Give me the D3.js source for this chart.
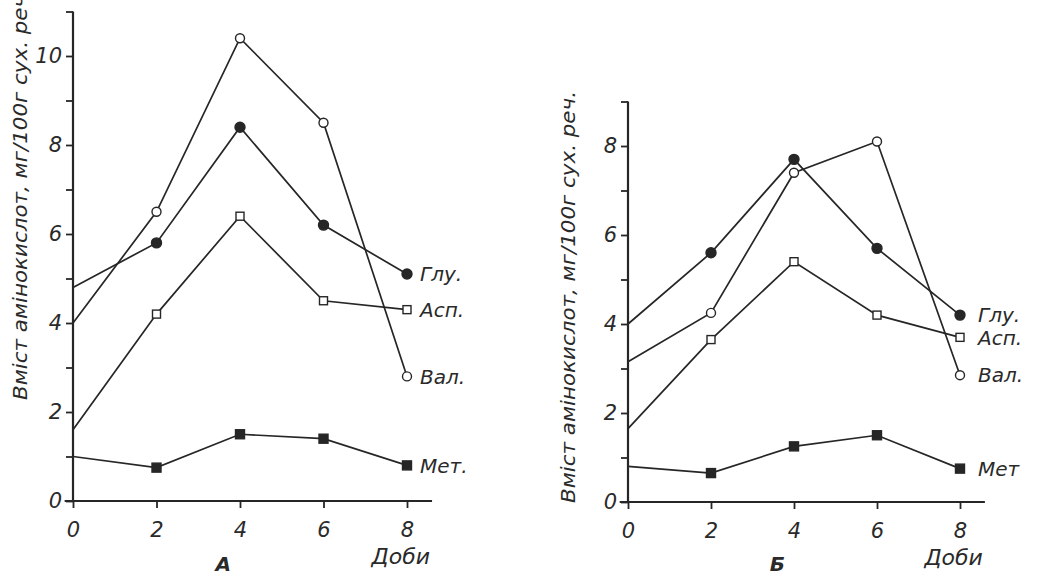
<!DOCTYPE html>
<html>
<head>
<meta charset="utf-8">
<script src="https://cdn.jsdelivr.net/npm/d3@7"></script>
<style>
  body { margin: 0; background: #fff; }
  svg { display: block; }
  text { font-family: "DejaVu Sans", "Liberation Sans", sans-serif; font-style: italic; fill: #2a2a2a; }
</style>
</head>
<body>
<svg id="chart" width="1045" height="576"></svg>
<script>
// days of measurement
const days = [0, 2, 4, 6, 8]

// panel A values, mg/100g dry matter
const valA = [4.0, 6.5, 10.4, 8.5, 2.8]
const gluA = [4.8, 5.8, 8.4, 6.2, 5.1]
const aspA = [1.6, 4.2, 6.4, 4.5, 4.3]
const metA = [1.0, 0.75, 1.5, 1.4, 0.8]

// panel B values
const gluB = [4.0, 5.6, 7.7, 5.7, 4.2]
const valB = [3.15, 4.25, 7.4, 8.1, 2.85]
const aspB = [1.65, 3.65, 5.4, 4.2, 3.7]
const metB = [0.8, 0.65, 1.25, 1.5, 0.75]

const yTitle = 'Вміст амінокислот, мг/100г сух. реч.'
const xTitle = 'Доби'

const ink = '#262626'
const font = '"DejaVu Sans", "Liberation Sans", sans-serif'
const svg = d3.select('#chart')

function styleText(sel, size) {
  sel.attr('font-size', size)
    .style('font-family', font)
    .style('font-style', 'italic')
    .attr('fill', ink)
}

function drawPanel(opt) {
  const x = d3.scaleLinear().domain([0, 8]).range([opt.x0, opt.x1])
  const y = d3.scaleLinear().domain([0, opt.ymax]).range([opt.y0, opt.y0 - opt.ymax * 44.5])
  const g = svg.append('g')

  // y axis, ticks at every unit, labels on even ones
  const yAxis = d3.axisLeft(y)
    .tickValues(d3.range(0, opt.ymax + 1))
    .tickSize(7)
    .tickPadding(4)
    .tickFormat(d => d % 2 === 0 ? d : '')
  const ya = g.append('g').attr('transform', `translate(${opt.x0},0)`).call(yAxis)
  ya.select('.domain').remove()
  ya.selectAll('line').attr('stroke', ink).attr('stroke-width', 1.8)
  styleText(ya.selectAll('text'), 21)

  // x axis
  const xAxis = d3.axisBottom(x).tickValues(days).tickSize(7).tickPadding(14)
  const xa = g.append('g').attr('transform', `translate(0,${opt.y0})`).call(xAxis)
  xa.select('.domain').remove()
  xa.selectAll('line').attr('stroke', ink).attr('stroke-width', 1.8)
  styleText(xa.selectAll('text'), 21)

  // axis lines
  g.append('line').attr('x1', opt.x0).attr('x2', opt.x0)
    .attr('y1', opt.y0).attr('y2', y(opt.ymax))
    .attr('stroke', ink).attr('stroke-width', 2.2)
  g.append('line').attr('x1', x(-0.2)).attr('x2', x(8.6))
    .attr('y1', opt.y0).attr('y2', opt.y0)
    .attr('stroke', ink).attr('stroke-width', 2.2)

  const line = d3.line().x((d, i) => x(days[i])).y(d => y(d))

  opt.series.forEach(s => {
    g.append('path').datum(s.values)
      .attr('d', line)
      .attr('fill', 'none')
      .attr('stroke', ink)
      .attr('stroke-width', 1.7)

    // markers, none at day 0
    const pts = s.values.map((v, i) => ({ d: days[i], v })).filter(p => p.d > 0)
    if (s.shape === 'circle') {
      g.selectAll(null).data(pts).enter().append('circle')
        .attr('cx', p => x(p.d)).attr('cy', p => y(p.v)).attr('r', s.filled ? 5 : 4.5)
        .attr('fill', s.filled ? ink : '#fff')
        .attr('stroke', ink).attr('stroke-width', 1.4)
    } else {
      const sz = s.filled ? 9 : 8
      g.selectAll(null).data(pts).enter().append('rect')
        .attr('x', p => x(p.d) - sz / 2).attr('y', p => y(p.v) - sz / 2)
        .attr('width', sz).attr('height', sz)
        .attr('fill', s.filled ? ink : '#fff')
        .attr('stroke', ink).attr('stroke-width', 1.4)
    }

    const lab = g.append('text')
      .attr('x', x(8) + opt.labelGap)
      .attr('y', y(s.values[4]))
      .attr('dy', '0.36em')
      .text(s.name)
    styleText(lab, 20)
  })

  // y title
  const yt = g.append('text')
    .attr('transform', `translate(${opt.titleX},${opt.titleY}) rotate(-90)`)
    .attr('text-anchor', 'middle')
    .attr('textLength', 412)
    .attr('lengthAdjust', 'spacingAndGlyphs')
    .text(yTitle)
  styleText(yt, 19)

  // x title
  const xt = g.append('text')
    .attr('x', x(8.6) - 2).attr('y', opt.y0 + 63)
    .attr('text-anchor', 'end')
    .text(xTitle)
  styleText(xt, 22)

  // panel letter
  const pl = g.append('text')
    .attr('x', x(3.6)).attr('y', 571)
    .attr('text-anchor', 'middle')
    .attr('font-weight', 'bold')
    .text(opt.letter)
  styleText(pl, 20)
}

drawPanel({
  x0: 73, x1: 407, y0: 501, ymax: 11, labelGap: 13,
  titleX: 27, titleY: 194, letter: 'А',
  series: [
    { name: 'Глу.', values: gluA, shape: 'circle', filled: true },
    { name: 'Асп.', values: aspA, shape: 'square', filled: false },
    { name: 'Вал.', values: valA, shape: 'circle', filled: false },
    { name: 'Мет.', values: metA, shape: 'square', filled: true }
  ]
})

drawPanel({
  x0: 628, x1: 960, y0: 502, ymax: 9, labelGap: 18,
  titleX: 575, titleY: 297, letter: 'Б',
  series: [
    { name: 'Глу.', values: gluB, shape: 'circle', filled: true },
    { name: 'Асп.', values: aspB, shape: 'square', filled: false },
    { name: 'Вал.', values: valB, shape: 'circle', filled: false },
    { name: 'Мет', values: metB, shape: 'square', filled: true }
  ]
})
</script>
</body>
</html>
